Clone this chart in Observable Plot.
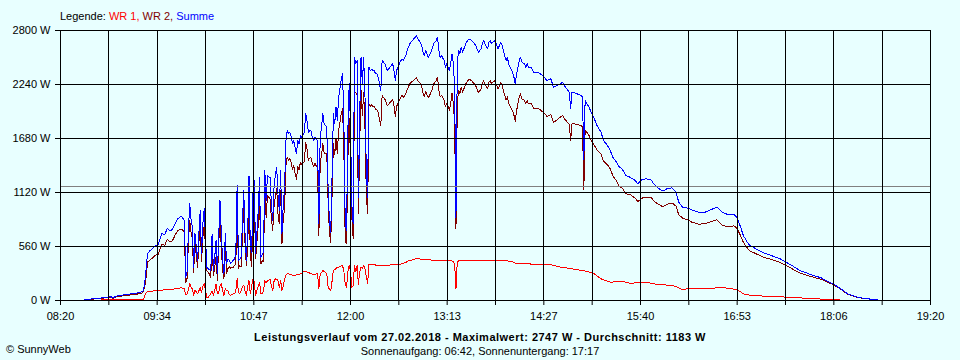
<!DOCTYPE html>
<html>
<head>
<meta charset="utf-8">
<script src="https://cdn.jsdelivr.net/npm/d3@7"></script>
<script src="https://cdn.jsdelivr.net/npm/@observablehq/plot@0.6"></script>
<style>
html, body { margin: 0; padding: 0; background: #e8ffff; }
#wrap { position: relative; width: 960px; height: 360px; overflow: hidden;
  font-family: "Liberation Sans", Arial, sans-serif; font-size: 11px; line-height: 13px; color: #000; }
#chart { position: absolute; left: 0; top: 0; }
.t { position: absolute; white-space: nowrap; }
</style>
</head>
<body>
<div id="wrap">
  <div id="chart"></div>
  <div class="t" style="left:60px; top:10px;">Legende: <span style="color:#ff0000">WR 1,</span> <span style="color:#800000">WR 2,</span> <span style="color:#0000ff">Summe</span></div>
  <div class="t" id="title" style="left:0; width:960px; text-align:center; top:331px; font-weight:bold; letter-spacing:0.5px;"></div>
  <div class="t" style="left:0; width:960px; text-align:center; top:345px;">Sonnenaufgang: 06:42, Sonnenuntergang: 17:17</div>
  <div class="t" style="left:6px; top:343px;">© SunnyWeb</div>
</div>
<script>
// ---- Daten ----
const zeit = [
  "08:35","08:40","08:45","08:50","08:55","08:58","09:00","09:02","09:06","09:10",
  "09:14","09:18","09:22","09:23","09:24","09:25","09:26","09:28","09:30","09:32",
  "09:34","09:36","09:37","09:39","09:41","09:43","09:45","09:47","09:49","09:51",
  "09:52","09:53","09:54","09:55","09:56","09:57","09:58","09:59","10:00","10:01",
  "10:02","10:03","10:04","10:05","10:06","10:07","10:08","10:09","10:10","10:11",
  "10:12","10:13","10:14","10:15","10:16","10:17","10:18","10:19","10:20","10:21",
  "10:22","10:23","10:24","10:25","10:26","10:27","10:28","10:29","10:30","10:31",
  "10:32","10:33","10:34","10:35","10:36","10:37","10:38","10:39","10:40","10:41",
  "10:42","10:43","10:44","10:45","10:46","10:47","10:48","10:49","10:50","10:51",
  "10:52","10:53","10:54","10:55","10:56","10:57","10:58","10:59","11:00","11:01",
  "11:02","11:03","11:04","11:05","11:06","11:07","11:08","11:09","11:10","11:11",
  "11:12","11:13","11:14","11:15","11:16","11:17","11:18","11:19","11:20","11:21",
  "11:22","11:23","11:24","11:25","11:26","11:27","11:28","11:29","11:30","11:31",
  "11:32","11:33","11:34","11:35","11:36","11:37","11:38","11:39","11:40","11:41",
  "11:42","11:43","11:44","11:45","11:46","11:47","11:48","11:49","11:50","11:51",
  "11:52","11:53","11:54","11:55","11:56","11:57","11:58","11:59","12:00","12:01",
  "12:02","12:03","12:04","12:05","12:06","12:07","12:08","12:09","12:10","12:11",
  "12:12","12:13","12:14","12:15","12:16","12:17","12:18","12:19","12:20",
  "12:21","12:23","12:24","12:26","12:28","12:30","12:32","12:33","12:34","12:35",
  "12:37","12:39","12:40","12:42","12:43","12:45","12:47","12:48","12:50","12:51",
  "12:53","12:54","12:55","12:56","12:57","12:58","12:59","13:01","13:02","13:03",
  "13:05","13:06","13:07","13:08","13:09","13:11","13:12","13:13","13:15","13:16",
  "13:17","13:18","13:19","13:20","13:21","13:22","13:23","13:24","13:25","13:27",
  "13:28","13:29","13:30","13:32","13:33","13:35","13:36","13:37","13:39","13:40",
  "13:41","13:42","13:44","13:45","13:46","13:47","13:49","13:50","13:51","13:52",
  "13:54","13:55","13:56","13:58","13:59","14:00","14:01","14:03","14:04","14:05",
  "14:06","14:08","14:09","14:10","14:12","14:13","14:14","14:15","14:17","14:19",
  "14:22","14:24","14:27","14:29","14:32","14:34","14:37","14:39",
  "14:41","14:43","14:46","14:47","14:48","14:49","14:52","14:55","14:56","14:57",
  "14:58","15:01","15:03","15:05","15:07","15:10","15:12","15:15","15:17","15:19",
  "15:21","15:24","15:26","15:29","15:32","15:36","15:38","15:41","15:44","15:48",
  "15:50","15:53","15:57","16:00","16:04","16:07","16:09","16:12","16:15","16:19",
  "16:24","16:29","16:33","16:38","16:42","16:46","16:51","16:53","16:56","16:58",
  "17:01","17:03","17:09","17:14","17:19","17:26","17:34","17:41","17:49","17:57",
  "18:07","18:12","18:17","18:22","18:27","18:34","18:39","18:42"
];

const summe = [
  0,10,18,25,35,40,28,45,55,62,
  70,78,90,110,200,330,487,519,540,570,
  580,656,695,680,747,720,740,800,847,871,
  871,850,830,242,300,700,1003,850,760,346,
  695,560,415,700,933,487,800,950,656,346,
  330,320,311,692,311,450,622,277,650,1037,
  700,415,277,692,380,430,415,384,400,415,
  430,484,1193,415,430,449,800,1141,692,415,
  700,1296,553,500,1106,1244,484,700,933,1279,
  449,480,501,1348,1037,1296,1280,1279,1000,830,
  1175,1300,1383,1100,933,1348,692,1000,1175,1659,
  1763,1728,1746,1700,1625,1659,1580,1521,1659,1625,
  1711,1694,1720,1746,1936,1867,1746,1760,1763,1694,
  1659,1694,1670,1659,795,1694,1797,1936,1832,1815,
  1797,1175,830,700,1279,1936,1832,2004,1867,2108,
  2200,2300,2351,1832,795,726,1763,2247,1800,1000,
  795,2523,2455,2489,1071,1936,2523,2247,2523,2108,
  1348,1071,2420,2385,2400,2385,2385,2351,2351,
  2316,2178,2489,2455,2385,2420,2455,2385,2281,2385,
  2455,2506,2489,2541,2593,2662,2696,2713,2747,2713,
  2679,2645,2575,2541,2593,2558,2523,2575,2610,2662,
  2696,2731,2593,2523,2541,2489,2420,2455,2385,2455,
  2558,2455,2212,860,2455,2593,2558,2627,2575,2645,
  2679,2696,2713,2696,2679,2645,2610,2575,2610,2662,
  2696,2662,2610,2679,2696,2662,2696,2679,2645,2610,
  2679,2645,2593,2489,2523,2455,2420,2368,2316,2247,
  2351,2489,2523,2472,2455,2420,2455,2420,2420,2368,
  2368,2351,2316,2281,2299,2212,2229,2247,
  2264,2212,2160,1988,2160,2160,2143,2126,2108,1460,
  2074,2004,1936,1884,1815,1746,1659,1607,1556,1486,
  1452,1383,1366,1296,1279,1244,1210,1251,1262,1251,
  1210,1168,1134,1158,1168,1123,1019,968,961,940,
  916,916,940,968,916,892,892,864,760,674,
  605,570,526,491,467,432,370,311,270,235,
  166,121,69,45,28,15,10,0
];

const wr1 = [
  0,2,3,5,6,8,6,8,9,10,
  11,12,12,12,50,86,90,95,98,100,
  104,106,108,110,115,115,118,120,121,130,
  130,125,120,60,70,110,173,140,120,52,
  104,90,69,100,138,80,150,173,100,35,
  34,50,69,100,52,100,173,69,80,150,
  173,100,52,120,100,100,60,52,60,69,
  69,100,225,80,69,100,138,160,100,52,
  150,207,69,150,225,190,52,100,150,190,
  69,69,100,207,180,207,210,225,150,104,
  200,225,220,207,138,207,104,150,225,260,
  277,275,270,268,262,259,262,265,270,272,
  277,285,295,304,300,295,290,285,280,275,
  270,272,275,277,121,277,290,311,300,290,
  277,138,121,100,200,311,320,330,346,346,
  350,363,363,300,173,138,300,363,311,138,
  150,363,300,363,170,300,346,330,363,330,
  250,173,380,375,370,370,370,368,368,
  368,365,365,365,365,368,370,370,370,372,
  375,380,385,395,405,415,422,428,432,432,
  430,428,426,425,424,423,422,420,420,418,
  416,415,414,412,411,410,410,410,410,410,
  410,405,380,121,405,410,412,415,415,416,
  417,418,418,418,418,418,418,418,418,417,
  417,416,416,415,415,415,416,417,418,418,
  418,416,414,412,410,408,405,400,395,388,
  382,380,380,380,380,380,380,380,378,378,
  376,375,373,372,370,365,355,346,
  346,340,332,328,328,326,320,311,310,310,
  305,295,285,275,255,225,215,200,190,192,
  195,200,198,190,180,182,185,190,190,180,
  175,166,162,160,156,145,130,114,120,128,
  124,121,125,131,135,128,118,112,90,70,
  60,55,50,45,40,38,33,27,20,15,
  7,5,4,3,2,1,0,0
];

const wr2 = [
  0,8,15,20,29,32,22,37,46,52,
  59,66,78,98,150,244,397,424,442,470,
  476,550,587,570,632,605,622,680,726,741,
  741,725,710,182,230,590,830,710,640,294,
  591,470,346,600,795,407,650,777,556,311,
  296,270,242,592,259,350,449,208,570,887,
  527,315,225,572,280,330,355,332,340,346,
  361,384,968,335,361,349,662,981,592,363,
  550,1089,484,350,881,1054,432,600,783,1089,
  380,411,401,1141,857,1089,1070,1054,850,726,
  975,1075,1163,893,795,1141,588,850,950,1399,
  1486,1453,1476,1432,1363,1400,1318,1256,1389,1353,
  1434,1409,1425,1442,1636,1572,1456,1475,1483,1419,
  1389,1422,1395,1382,674,1417,1507,1625,1532,1525,
  1520,1037,709,600,1079,1625,1512,1674,1521,1762,
  1850,1937,1988,1532,622,588,1463,1884,1489,862,
  645,2160,2155,2126,901,1636,2177,1917,2160,1778,
  1098,898,2040,2010,2030,2015,2015,1983,1983,
  1948,1813,2124,2090,2020,2052,2085,2015,1911,2013,
  2080,2126,2104,2146,2188,2247,2274,2285,2315,2281,
  2249,2217,2149,2116,2169,2135,2101,2155,2190,2244,
  2280,2316,2179,2111,2130,2079,2010,2045,1975,2045,
  2148,2050,1832,739,2050,2183,2146,2212,2160,2229,
  2262,2278,2295,2278,2261,2227,2192,2157,2192,2245,
  2279,2246,2194,2264,2281,2247,2280,2262,2227,2192,
  2261,2229,2179,2077,2113,2047,2015,1968,1921,1859,
  1969,2109,2143,2092,2075,2040,2075,2040,2042,1990,
  1992,1976,1943,1909,1929,1847,1874,1901,
  1918,1872,1828,1660,1832,1834,1823,1815,1798,1150,
  1769,1709,1651,1609,1560,1521,1444,1407,1366,1294,
  1257,1183,1168,1106,1099,1062,1025,1061,1072,1071,
  1035,1002,972,998,1012,978,889,854,841,812,
  792,795,815,837,781,764,774,752,670,604,
  545,515,476,446,427,394,337,284,250,220,
  159,116,65,42,26,14,10,0
];

const xTickLabels = ["08:20","09:34","10:47","12:00","13:13","14:27","15:40","16:53","18:06","19:20"];
const yTickValues = [0, 560, 1120, 1680, 2240, 2800];
const datum = "27.02.2018";
const maximalwert = 2747;
const durchschnitt = 1183;

// ---- Aufbau ----
if (![summe, wr1, wr2].every(a => a.length === zeit.length)) {
  throw new Error("length mismatch: zeit " + zeit.length + " summe " + summe.length + " wr1 " + wr1.length + " wr2 " + wr2.length);
}
const toMin = s => { const [h, m] = s.split(":").map(Number); return h * 60 + m; };
const data = zeit.map((z, i) => ({ t: toMin(z), wr1: wr1[i], wr2: wr2[i], summe: summe[i] }));

const x0 = toMin(xTickLabels[0]);
const x1 = toMin(xTickLabels[xTickLabels.length - 1]);
const nSub = (xTickLabels.length - 1) * 2;
const xTicks = d3.range(nSub + 1).map(i => x0 + i * (x1 - x0) / nSub);
const fmtX = d => { const i = Math.round((d - x0) / (x1 - x0) * nSub); return i % 2 ? "" : xTickLabels[i / 2]; };

document.getElementById("title").textContent =
  `Leistungsverlauf vom ${datum} - Maximalwert: ${maximalwert} W - Durchschnitt: ${durchschnitt} W`;

const crisp = { strokeWidth: 1, shapeRendering: "crispEdges" };
const chart = Plot.plot({
  width: 960,
  height: 360,
  marginTop: 30,
  marginRight: 30,
  marginBottom: 60,
  marginLeft: 60,
  style: { background: "transparent", color: "#000", fontFamily: '"Liberation Sans", Arial, sans-serif', fontSize: "11px", overflow: "visible" },
  x: { type: "linear", domain: [x0, x1], ticks: xTicks, tickFormat: fmtX, tickSize: 5, tickPadding: 7, label: null },
  y: { domain: [yTickValues[0], yTickValues[yTickValues.length - 1]], ticks: yTickValues, tickFormat: d => `${d} W`, tickSize: 5, tickPadding: 5, label: null },
  marks: [
    Plot.line(data, { x: "t", y: "wr1", stroke: "#ff0000", ...crisp }),
    Plot.line(data, { x: "t", y: "wr2", stroke: "#800000", ...crisp }),
    Plot.line(data, { x: "t", y: "summe", stroke: "#0000ff", ...crisp }),
    Plot.ruleY([durchschnitt], { stroke: "#808080", ...crisp }),
    Plot.ruleX(xTicks, { stroke: "#000", ...crisp }),
    Plot.ruleY(yTickValues, { stroke: "#000", ...crisp })
  ]
});
document.getElementById("chart").appendChild(chart);
</script>
</body>
</html>
